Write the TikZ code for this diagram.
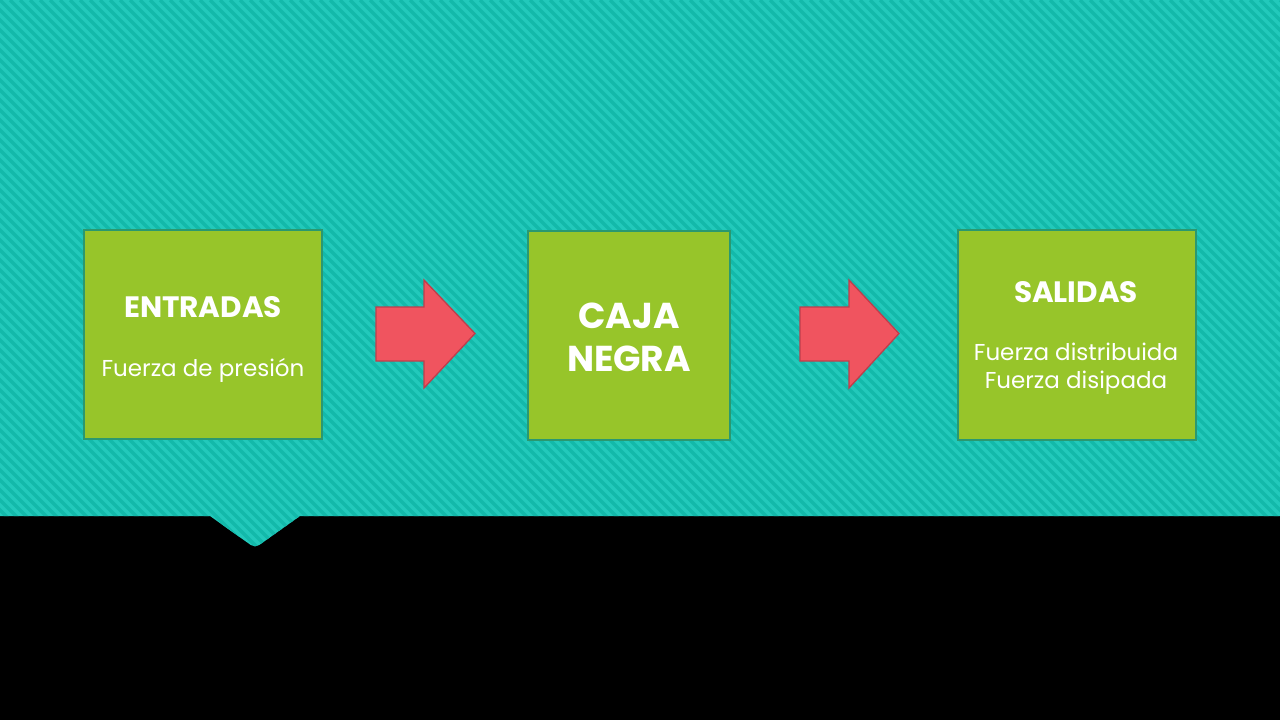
\documentclass[tikz,border=0pt]{standalone}
\usepackage{fontspec}
\setmainfont{Poppins}
\definecolor{tealbase}{HTML}{22C9BB}
\definecolor{tealstripe}{HTML}{13B9AA}
\definecolor{boxgreen}{HTML}{97C52A}
\definecolor{boxedge}{HTML}{2A9870}
\definecolor{arrowred}{HTML}{F0545F}
\definecolor{arrowedge}{HTML}{BE3E4C}
\begin{document}
\begin{tikzpicture}[x=1pt,y=-1pt,
  stripe/.style={draw=tealstripe,line width=3.4pt},
  greenbox/.style={draw=boxedge,fill=boxgreen,line width=1.6pt,rectangle,inner sep=0pt},
  arrowshape/.style={draw=arrowedge,fill=arrowred,line width=1.3pt,line join=miter},
  title/.style={text=white,font=\fontsize{29.5}{33}\selectfont\bfseries,align=center},
  bigtitle/.style={text=white,font=\fontsize{36}{43}\selectfont\bfseries,align=center},
  body/.style={text=white,font=\fontsize{23}{28}\selectfont,align=center}]
\useasboundingbox (0,0) rectangle (1280,720);
% lower black band
\fill[black] (0,516) rectangle (1280,720);
% striped teal header with the pointer notch
\path[fill=tealbase] (0,0) -- (1280,0) -- (1280,516) -- (300,516)
  [rounded corners=5pt] -- (255,548) [sharp corners] -- (210,516) -- (0,516) -- cycle;
\begin{scope}
  \clip (0,0) -- (1280,0) -- (1280,516) -- (300,516)
    [rounded corners=5pt] -- (255,548) [sharp corners] -- (210,516) -- (0,516) -- cycle;
  \foreach \i in {-600,-590,...,1290} \draw[stripe] (\i,0) -- ++(600,600);
\end{scope}
% the three blocks
\node[greenbox,minimum width=238pt,minimum height=209pt] (in) at (203,334.5) {};
\node[greenbox,minimum width=202pt,minimum height=209pt] (box) at (629,335.5) {};
\node[greenbox,minimum width=238pt,minimum height=210pt] (out) at (1077,335) {};
% block texts
\node[title] (intitle) at (203,307) {ENTRADAS};
\node[body] (intext) at (203,370) {Fuerza de presión};
\node[bigtitle] (boxtitle) at (629,337) {CAJA\\NEGRA};
\node[title] (outtitle) at (1076,292) {SALIDAS};
\node[body] (outtext) at (1076,369) {Fuerza distribuida\\Fuerza disipada};
% block arrows
\path[arrowshape] (376,307) -- (424,307) -- (424,280) -- (475,333.5) -- (424,388) -- (424,361) -- (376,361) -- cycle;
\path[arrowshape] (800,307) -- (849,307) -- (849,280) -- (899,333.5) -- (849,388) -- (849,361) -- (800,361) -- cycle;
\end{tikzpicture}
\end{document}
